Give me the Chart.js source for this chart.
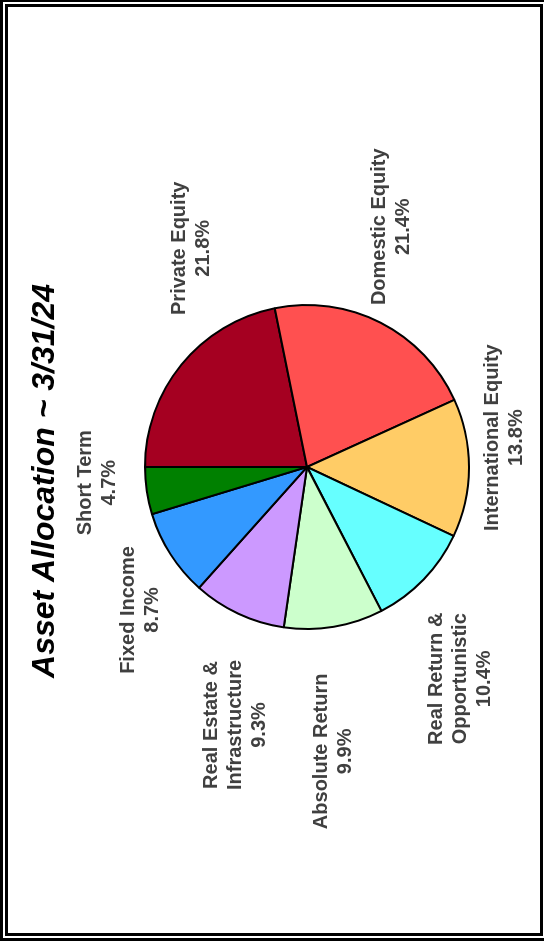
<!DOCTYPE html>
<html>
<head>
<meta charset="utf-8">
<title>Asset Allocation</title>
<script src="https://cdn.jsdelivr.net/npm/chart.js@4/dist/chart.umd.min.js"></script>
<style>
    html, body { margin: 0; padding: 0; background: #fff; }
    body { width: 544px; height: 941px; position: relative; overflow: hidden; }
    .frameOuter {
        position: absolute; left: 0; top: 0; width: 560px; height: 941px;
        border: 3px solid #000; border-top-width: 2px; box-sizing: border-box;
    }
    .frameInner {
        position: absolute; left: 5px; top: 4px; width: 538px; height: 932px;
        border: 3px solid #000; box-sizing: border-box;
    }
    /* the chart is drawn landscape and turned a quarter to the left */
    #chartBox {
        position: absolute; left: 0; top: 0; width: 941px; height: 544px;
        transform-origin: 0 0; transform: translate(0, 941px) rotate(-90deg);
    }
</style>
</head>
<body>
<div class="frameOuter"></div>
<div class="frameInner"></div>
<div id="chartBox"><canvas id="allocChart" width="941" height="544"></canvas></div>

<script>
const chartTitle = 'Asset Allocation ~ 3/31/24';

const categories = [
    'Private Equity',
    'Domestic Equity',
    'International Equity',
    ['Real Return &', 'Opportunistic'],
    'Absolute Return',
    ['Real Estate &', 'Infrastructure'],
    'Fixed Income',
    'Short Term'
];

const allocation = [21.8, 21.4, 13.8, 10.4, 9.9, 9.3, 8.7, 4.7];

const sliceColors = [
    '#A50021', '#FF5050', '#FFCC66', '#66FFFF',
    '#CCFFCC', '#CC99FF', '#3399FF', '#008000'
];

// extra shift of each label away from its default outside-end spot
const labelNudges = [
    [69, 35], [19, -4], [31, 3], [-48, 5],
    [-40, -6], [-45, 16], [-17, -3], [17, -18]
];

const titlePlugin = {
    id: 'rotatedTitle',
    afterDraw(chart, args, opts) {
        const ctx = chart.ctx;
        ctx.save();
        ctx.font = 'italic bold 32px "Liberation Sans", Arial, sans-serif';
        ctx.fillStyle = '#000';
        ctx.textAlign = 'center';
        ctx.textBaseline = 'middle';
        ctx.fillText(opts.text, opts.x, opts.y);
        ctx.restore();
    }
};

const sliceLabels = {
    id: 'sliceLabels',
    afterDatasetsDraw(chart, args, opts) {
        const ctx = chart.ctx;
        const arcs = chart.getDatasetMeta(0).data;
        ctx.save();
        ctx.font = 'bold 20px "Liberation Sans", Arial, sans-serif';
        ctx.fillStyle = '#404040';
        ctx.textAlign = 'center';
        ctx.textBaseline = 'middle';
        arcs.forEach((arc, i) => {
            const lines = [].concat(chart.data.labels[i], chart.data.datasets[0].data[i].toFixed(1) + '%');
            const w = Math.max(...lines.map(l => ctx.measureText(l).width));
            const h = lines.length * opts.lineHeight;
            const mid = (arc.startAngle + arc.endAngle) / 2;
            const dx = Math.cos(mid);
            const dy = Math.sin(mid);
            const r = arc.outerRadius + opts.gap;
            const nudge = opts.nudges[i] || [0, 0];
            const cx = arc.x + dx * r + dx * w / 2 + nudge[0];
            const cy = arc.y + dy * r + dy * h / 2 + nudge[1];
            lines.forEach((line, k) => {
                ctx.fillText(line, cx, cy + (k - (lines.length - 1) / 2) * opts.lineHeight);
            });
        });
        ctx.restore();
    }
};

const ctx = document.getElementById('allocChart');

new Chart(ctx, {
    type: 'pie',
    data: {
        labels: categories,
        datasets: [{
            data: allocation,
            backgroundColor: sliceColors,
            borderColor: '#000',
            borderWidth: 2,
            hoverOffset: 0
        }]
    },
    options: {
        responsive: false,
        animation: false,
        events: [],
        layout: {
            padding: { top: 144, bottom: 74, left: 311, right: 304 }
        },
        plugins: {
            legend: { display: false },
            tooltip: { enabled: false },
            rotatedTitle: { text: chartTitle, x: 460, y: 45 },
            sliceLabels: { gap: 8, lineHeight: 24, nudges: labelNudges }
        }
    },
    plugins: [titlePlugin, sliceLabels]
});
</script>
</body>
</html>
